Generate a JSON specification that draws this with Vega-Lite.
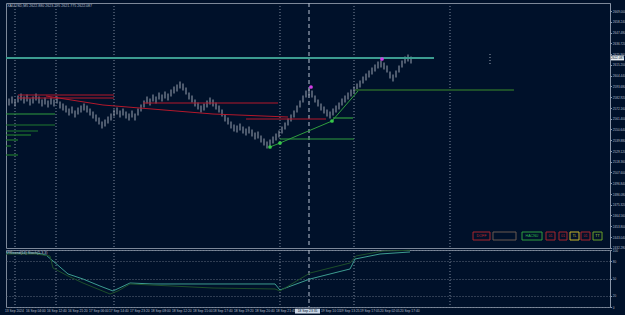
{
"$schema": "https://vega.github.io/schema/vega-lite/v6.json",
"background": "#00112a",
"padding": {"left": 3, "top": 2, "right": 0, "bottom": 0},
"spacing": 2,
"bounds": "flush",
"config": {
 "view": {"stroke": "#7d8899", "strokeWidth": 1},
 "axis": {"labelFont": "Liberation Sans", "labelFontSize": 3.1, "labelColor": "#b5bfcc", "domainColor": "#8a96a8", "tickColor": "#8a96a8", "tickSize": 1.5, "labelPadding": 0.8, "labelOverlap": false, "labelBound": false, "labelFlush": false},
 "text": {"font": "Liberation Sans"}
},
"datasets": {
 "bars": [
{"i":1,"h":2581.5,"l":2574.5},{"i":2,"h":2583.5,"l":2576.5},{"i":3,"h":2580.5,"l":2573.5},{"i":4,"h":2584.5,"l":2577.5},{"i":5,"h":2586.5,"l":2579.5},
{"i":6,"h":2583.5,"l":2576.5},{"i":7,"h":2585.5,"l":2578.5},{"i":8,"h":2581.5,"l":2574.5},{"i":9,"h":2583.5,"l":2576.5},{"i":10,"h":2586.5,"l":2579.5},
{"i":11,"h":2583.5,"l":2576.5},{"i":12,"h":2580.5,"l":2573.5},{"i":13,"h":2582.5,"l":2575.5},{"i":14,"h":2579.5,"l":2572.5},{"i":15,"h":2582.5,"l":2575.5},
{"i":16,"h":2580.5,"l":2573.5},{"i":17,"h":2583.5,"l":2576.5},{"i":18,"h":2578.5,"l":2571.5},{"i":19,"h":2576.5,"l":2569.5},{"i":20,"h":2574.5,"l":2567.5},
{"i":21,"h":2571.5,"l":2564.5},{"i":22,"h":2573.5,"l":2566.5},{"i":23,"h":2569.5,"l":2562.5},{"i":24,"h":2572.5,"l":2565.5},{"i":25,"h":2574.5,"l":2567.5},
{"i":26,"h":2576.5,"l":2569.5},{"i":27,"h":2574.5,"l":2567.5},{"i":28,"h":2571.5,"l":2564.5},{"i":29,"h":2568.5,"l":2561.5},{"i":30,"h":2565.5,"l":2558.5},
{"i":31,"h":2562.5,"l":2555.5},{"i":32,"h":2558.5,"l":2551.5},{"i":33,"h":2560.5,"l":2553.5},{"i":34,"h":2563.5,"l":2556.5},{"i":35,"h":2566.5,"l":2559.5},
{"i":36,"h":2570.5,"l":2563.5},{"i":37,"h":2572.5,"l":2565.5},{"i":38,"h":2569.5,"l":2562.5},{"i":39,"h":2571.5,"l":2564.5},{"i":40,"h":2568.5,"l":2561.5},
{"i":41,"h":2566.5,"l":2559.5},{"i":42,"h":2569.5,"l":2562.5},{"i":43,"h":2566.5,"l":2559.5},{"i":44,"h":2571.5,"l":2564.5},{"i":45,"h":2575.5,"l":2568.5},
{"i":46,"h":2579.5,"l":2572.5},{"i":47,"h":2583.5,"l":2576.5},{"i":48,"h":2581.5,"l":2574.5},{"i":49,"h":2585.5,"l":2578.5},{"i":50,"h":2583.5,"l":2576.5},
{"i":51,"h":2587.5,"l":2580.5},{"i":52,"h":2585.5,"l":2578.5},{"i":53,"h":2588.5,"l":2581.5},{"i":54,"h":2586.5,"l":2579.5},{"i":55,"h":2590.5,"l":2583.5},
{"i":56,"h":2593.5,"l":2586.5},{"i":57,"h":2595.5,"l":2588.5},{"i":58,"h":2598.5,"l":2591.5},{"i":59,"h":2596.5,"l":2589.5},{"i":60,"h":2592.5,"l":2585.5},
{"i":61,"h":2587.5,"l":2580.5},{"i":62,"h":2584.5,"l":2577.5},{"i":63,"h":2580.5,"l":2573.5},{"i":64,"h":2577.5,"l":2570.5},{"i":65,"h":2574.5,"l":2567.5},
{"i":66,"h":2576.5,"l":2569.5},{"i":67,"h":2579.5,"l":2572.5},{"i":68,"h":2582.5,"l":2575.5},{"i":69,"h":2580.5,"l":2573.5},{"i":70,"h":2577.5,"l":2570.5},
{"i":71,"h":2574.5,"l":2567.5},{"i":72,"h":2570.5,"l":2563.5},{"i":73,"h":2565.5,"l":2558.5},{"i":74,"h":2562.5,"l":2555.5},{"i":75,"h":2558.5,"l":2551.5},
{"i":76,"h":2555.5,"l":2548.5},{"i":77,"h":2554.5,"l":2547.5},{"i":78,"h":2556.5,"l":2549.5},{"i":79,"h":2553.5,"l":2546.5},{"i":80,"h":2551.5,"l":2544.5},
{"i":81,"h":2553.5,"l":2546.5},{"i":82,"h":2550.5,"l":2543.5},{"i":83,"h":2547.5,"l":2540.5},{"i":84,"h":2548.5,"l":2541.5},{"i":85,"h":2544.5,"l":2537.5},
{"i":86,"h":2541.5,"l":2534.5},{"i":87,"h":2538.5,"l":2531.5},{"i":88,"h":2540.5,"l":2533.5},{"i":89,"h":2543.5,"l":2536.5},{"i":90,"h":2546.5,"l":2539.5},
{"i":91,"h":2549.5,"l":2542.5},{"i":92,"h":2553.5,"l":2546.5},{"i":93,"h":2557.5,"l":2550.5},{"i":94,"h":2561.5,"l":2554.5},{"i":95,"h":2565.5,"l":2558.5},
{"i":96,"h":2569.5,"l":2562.5},{"i":97,"h":2574.5,"l":2567.5},{"i":98,"h":2579.5,"l":2572.5},{"i":99,"h":2584.5,"l":2577.5},{"i":100,"h":2589.5,"l":2582.5},
{"i":101,"h":2591.5,"l":2584.5},{"i":102,"h":2589.5,"l":2582.5},{"i":103,"h":2584.5,"l":2577.5},{"i":104,"h":2580.5,"l":2573.5},{"i":105,"h":2576.5,"l":2569.5},
{"i":106,"h":2573.5,"l":2566.5},{"i":107,"h":2570.5,"l":2563.5},{"i":108,"h":2568.5,"l":2561.5},{"i":109,"h":2571.5,"l":2564.5},{"i":110,"h":2574.5,"l":2567.5},
{"i":111,"h":2577.5,"l":2570.5},{"i":112,"h":2581.5,"l":2574.5},{"i":113,"h":2584.5,"l":2577.5},{"i":114,"h":2587.5,"l":2580.5},{"i":115,"h":2590.5,"l":2583.5},
{"i":116,"h":2593.5,"l":2586.5},{"i":117,"h":2596.5,"l":2589.5},{"i":118,"h":2599.5,"l":2592.5},{"i":119,"h":2603.5,"l":2596.5},{"i":120,"h":2606.5,"l":2599.5},
{"i":121,"h":2609.5,"l":2602.5},{"i":122,"h":2612.5,"l":2605.5},{"i":123,"h":2615.5,"l":2608.5},{"i":124,"h":2618.5,"l":2611.5},{"i":125,"h":2619.5,"l":2612.5},
{"i":126,"h":2617.5,"l":2610.5},{"i":127,"h":2614.5,"l":2607.5},{"i":128,"h":2608.5,"l":2601.5},{"i":129,"h":2605.5,"l":2598.5},{"i":130,"h":2609.5,"l":2602.5},
{"i":131,"h":2614.5,"l":2607.5},{"i":132,"h":2619.5,"l":2612.5},{"i":133,"h":2623.5,"l":2616.5},{"i":134,"h":2625.5,"l":2618.5},{"i":135,"h":2623.5,"l":2616.5}
 ],
 "vsep": [{"i":3},{"i":16.67},{"i":36},{"i":91.33},{"i":116},{"i":148}],
 "cross": [{"i":101}],
 "hthick": [{"a":0,"b":142.67,"p":2622,"k":"teal"},{"a":116.33,"b":169.33,"p":2590,"k":"dgreen"}],
 "hthin": [
  {"a":4,"b":36,"p":2585,"k":"red"},{"a":4,"b":36,"p":2582,"k":"red"},
  {"a":45.67,"b":90.67,"p":2577,"k":"red"},{"a":80,"b":106.67,"p":2561,"k":"red"},
  {"a":0,"b":16.33,"p":2566,"k":"lgreen"},{"a":0,"b":16.33,"p":2555,"k":"mgreen"},
  {"a":0,"b":10.67,"p":2549,"k":"mgreen"},{"a":0,"b":8.33,"p":2545,"k":"mgreen"},
  {"a":0,"b":4,"p":2540,"k":"mgreen"},{"a":0,"b":1.67,"p":2534,"k":"mgreen"},
  {"a":0,"b":4,"p":2525,"k":"mgreen"},
  {"a":91.33,"b":116,"p":2541,"k":"lgreen"},{"a":109,"b":115.67,"p":2562,"k":"lgreen"}
 ],
 "poly": [
  {"i":13.33,"p":2584,"k":"rdiag"},{"i":32.33,"p":2575,"k":"rdiag"},{"i":69,"p":2566,"k":"rdiag"},{"i":94,"p":2563,"k":"rdiag"},
  {"i":88,"p":2533,"k":"gtrend"},{"i":91.33,"p":2537,"k":"gtrend"},{"i":108.67,"p":2559,"k":"gtrend"},{"i":117.33,"p":2589,"k":"gtrend"}
 ],
 "pts": [
  {"i":88,"p":2533,"k":"gpt"},{"i":91.33,"p":2537,"k":"gpt"},{"i":108.67,"p":2559,"k":"gpt"},
  {"i":101.67,"p":2593,"k":"mpt"},{"i":125.33,"p":2621,"k":"mpt"}
 ],
 "buttons": [
  {"a":155.67,"b":161.33,"m":158.5,"t":"DOFF","k":"bred"},
  {"a":162.33,"b":170,"m":166.17,"t":"","k":"bgray"},
  {"a":172,"b":178.67,"m":175.33,"t":"HACNU","k":"bgreen"},
  {"a":180,"b":183,"m":181.5,"t":"01","k":"bred"},
  {"a":184.33,"b":187,"m":185.67,"t":"01","k":"bred"},
  {"a":188,"b":191,"m":189.5,"t":"TL","k":"byellow"},
  {"a":191.67,"b":194.67,"m":193.17,"t":"01","k":"bred"},
  {"a":195.67,"b":198.67,"m":197.17,"t":"TT","k":"blime"}
 ],
 "osc": [
  {"i":0,"v":94.7,"s":"main"},{"i":10,"v":94.7,"s":"main"},{"i":13.33,"v":91.2,"s":"main"},{"i":15.67,"v":80.7,"s":"main"},
  {"i":20.67,"v":57.9,"s":"main"},{"i":25.67,"v":49.1,"s":"main"},{"i":31.33,"v":36.8,"s":"main"},{"i":35.67,"v":28.1,"s":"main"},
  {"i":41.33,"v":42.1,"s":"main"},{"i":49,"v":40.4,"s":"main"},{"i":69,"v":40.4,"s":"main"},{"i":89.67,"v":40.4,"s":"main"},
  {"i":91.33,"v":29.8,"s":"main"},{"i":101.33,"v":49.1,"s":"main"},{"i":114.67,"v":66.7,"s":"main"},{"i":116.33,"v":84.2,"s":"main"},
  {"i":124.67,"v":93.0,"s":"main"},{"i":134.67,"v":96.5,"s":"main"},
  {"i":0,"v":93.0,"s":"signal"},{"i":10,"v":93.0,"s":"signal"},{"i":14.67,"v":89.5,"s":"signal"},{"i":15.67,"v":68.4,"s":"signal"},
  {"i":20.67,"v":54.4,"s":"signal"},{"i":25.67,"v":42.1,"s":"signal"},{"i":34.67,"v":22.8,"s":"signal"},{"i":37.33,"v":28.1,"s":"signal"},
  {"i":41.33,"v":40.4,"s":"signal"},{"i":69,"v":33.3,"s":"signal"},{"i":89.67,"v":31.6,"s":"signal"},{"i":91.33,"v":28.1,"s":"signal"},
  {"i":101.33,"v":59.6,"s":"signal"},{"i":114.67,"v":77.2,"s":"signal"},{"i":116.67,"v":89.5,"s":"signal"},{"i":125.67,"v":98.2,"s":"signal"},
  {"i":134.67,"v":99.5,"s":"signal"}
 ],
 "xlabels": [
  {"i":-0.33,"t":"13 Sep 2024"},{"i":6.67,"t":"16 Sep 04:00"},{"i":13.67,"t":"16 Sep 12:40"},{"i":20.67,"t":"16 Sep 21:20"},
  {"i":27.67,"t":"17 Sep 06:00"},{"i":34.33,"t":"17 Sep 14:40"},{"i":41.33,"t":"17 Sep 23:20"},{"i":48.33,"t":"18 Sep 08:00"},
  {"i":55.33,"t":"18 Sep 12:20"},{"i":62.33,"t":"18 Sep 15:00"},{"i":69,"t":"18 Sep 17:40"},{"i":76,"t":"18 Sep 19:20"},
  {"i":83,"t":"18 Sep 20:40"},{"i":90,"t":"18 Sep 21:45"},{"i":105,"t":"19 Sep 10:15"},{"i":111.33,"t":"19 Sep 13:25"},
  {"i":118,"t":"19 Sep 17:05"},{"i":124.67,"t":"20 Sep 02:05"},{"i":131.33,"t":"20 Sep 17:40"}
 ]
},
"vconcat": [
 {
  "width": 604, "height": 245,
  "layer": [
   {"data": {"name": "vsep"}, "mark": {"type": "rule", "color": "#7f8a9c", "strokeDash": [1, 2], "strokeWidth": 1},
    "encoding": {"x": {"field": "i", "type": "quantitative", "scale": {"domain": [0, 201.33], "nice": false, "zero": false}, "axis": null}}},
   {"data": {"name": "cross"}, "mark": {"type": "rule", "color": "#b8c2d0", "strokeDash": [4, 3], "strokeWidth": 1},
    "encoding": {"x": {"field": "i", "type": "quantitative", "axis": null}}},
   {"data": {"name": "bars"}, "mark": {"type": "rule", "color": "#9aa3b0", "strokeWidth": 1},
    "encoding": {
     "x": {"field": "i", "type": "quantitative", "axis": null},
     "y": {"field": "l", "type": "quantitative", "title": null, "scale": {"domain": [2432, 2677], "nice": false, "zero": false},
      "axis": {"orient": "right", "grid": false, "labelOverlap": false, "format": ".3f", "tickCount": 23,
       "values": [2669.0, 2658.24, 2647.48, 2636.72, 2625.96, 2615.2, 2604.44, 2593.68, 2582.92, 2572.16, 2561.4, 2550.64, 2539.88, 2529.12, 2518.36, 2507.6, 2496.84, 2486.08, 2475.32, 2464.56, 2453.8, 2443.04, 2432.28]}},
     "y2": {"field": "h"}}},
   {"data": {"name": "hthick"}, "mark": {"type": "rule", "strokeWidth": 2},
    "encoding": {"x": {"field": "a", "type": "quantitative", "axis": null}, "x2": {"field": "b"},
     "y": {"field": "p", "type": "quantitative", "title": null, "axis": {"orient": "right", "grid": false, "labelOverlap": false, "format": ".3f", "tickCount": 23,
       "values": [2669.0, 2658.24, 2647.48, 2636.72, 2625.96, 2615.2, 2604.44, 2593.68, 2582.92, 2572.16, 2561.4, 2550.64, 2539.88, 2529.12, 2518.36, 2507.6, 2496.84, 2486.08, 2475.32, 2464.56, 2453.8, 2443.04, 2432.28]}},
     "color": {"field": "k", "type": "nominal", "legend": null,
      "scale": {"domain": ["teal","dgreen","red","lgreen","mgreen","rdiag","gtrend","gpt","mpt","bred","bgray","bgreen","byellow","blime"],
       "range": ["#3c9c90","#1d4f2a","#b3182b","#2f9e3e","#1e7a2e","#b3182b","#2f9e3e","#36c74a","#d23ee6","#c0282f","#6a5a50","#2fbf4a","#c8b52a","#b5d83a"]}}}},
   {"data": {"name": "hthin"}, "mark": {"type": "rule", "strokeWidth": 1.2},
    "encoding": {"x": {"field": "a", "type": "quantitative", "axis": null}, "x2": {"field": "b"},
     "y": {"field": "p", "type": "quantitative", "title": null, "axis": {"orient": "right", "grid": false, "labelOverlap": false, "format": ".3f", "tickCount": 23,
       "values": [2669.0, 2658.24, 2647.48, 2636.72, 2625.96, 2615.2, 2604.44, 2593.68, 2582.92, 2572.16, 2561.4, 2550.64, 2539.88, 2529.12, 2518.36, 2507.6, 2496.84, 2486.08, 2475.32, 2464.56, 2453.8, 2443.04, 2432.28]}},
     "color": {"field": "k", "type": "nominal", "legend": null}}},
   {"data": {"name": "poly"}, "mark": {"type": "line", "strokeWidth": 1},
    "encoding": {"x": {"field": "i", "type": "quantitative", "axis": null},
     "y": {"field": "p", "type": "quantitative", "title": null, "axis": {"orient": "right", "grid": false, "labelOverlap": false, "format": ".3f", "tickCount": 23,
       "values": [2669.0, 2658.24, 2647.48, 2636.72, 2625.96, 2615.2, 2604.44, 2593.68, 2582.92, 2572.16, 2561.4, 2550.64, 2539.88, 2529.12, 2518.36, 2507.6, 2496.84, 2486.08, 2475.32, 2464.56, 2453.8, 2443.04, 2432.28]}},
     "color": {"field": "k", "type": "nominal", "legend": null}}},
   {"data": {"name": "pts"}, "mark": {"type": "point", "filled": true, "size": 14, "opacity": 1},
    "encoding": {"x": {"field": "i", "type": "quantitative", "axis": null},
     "y": {"field": "p", "type": "quantitative", "title": null, "axis": {"orient": "right", "grid": false, "labelOverlap": false, "format": ".3f", "tickCount": 23,
       "values": [2669.0, 2658.24, 2647.48, 2636.72, 2625.96, 2615.2, 2604.44, 2593.68, 2582.92, 2572.16, 2561.4, 2550.64, 2539.88, 2529.12, 2518.36, 2507.6, 2496.84, 2486.08, 2475.32, 2464.56, 2453.8, 2443.04, 2432.28]}},
     "color": {"field": "k", "type": "nominal", "legend": null}}},
   {"data": {"values": [{"i": 161.33, "p1": 2626, "p2": 2614}]}, "mark": {"type": "rule", "color": "#9aa4b4", "strokeDash": [1, 2]},
    "encoding": {"x": {"field": "i", "type": "quantitative", "axis": null},
     "y": {"field": "p1", "type": "quantitative", "title": null, "axis": {"orient": "right", "grid": false, "labelOverlap": false, "format": ".3f", "tickCount": 23,
       "values": [2669.0, 2658.24, 2647.48, 2636.72, 2625.96, 2615.2, 2604.44, 2593.68, 2582.92, 2572.16, 2561.4, 2550.64, 2539.88, 2529.12, 2518.36, 2507.6, 2496.84, 2486.08, 2475.32, 2464.56, 2453.8, 2443.04, 2432.28]}}, "y2": {"field": "p2"}}},
   {"data": {"name": "buttons"}, "mark": {"type": "rect", "fill": "#00112a", "strokeWidth": 1},
    "encoding": {"x": {"field": "a", "type": "quantitative", "axis": null}, "x2": {"field": "b"},
     "y": {"datum": 2448, "type": "quantitative", "title": null, "axis": {"orient": "right", "grid": false, "labelOverlap": false, "format": ".3f", "tickCount": 23,
       "values": [2669.0, 2658.24, 2647.48, 2636.72, 2625.96, 2615.2, 2604.44, 2593.68, 2582.92, 2572.16, 2561.4, 2550.64, 2539.88, 2529.12, 2518.36, 2507.6, 2496.84, 2486.08, 2475.32, 2464.56, 2453.8, 2443.04, 2432.28]}}, "y2": {"datum": 2440},
     "stroke": {"field": "k", "type": "nominal", "legend": null,
      "scale": {"domain": ["bred","bgray","bgreen","byellow","blime"], "range": ["#a8262d","#6a5a50","#2f9e3e","#c8b52a","#6aa12a"]}}}},
   {"data": {"name": "buttons"}, "mark": {"type": "text", "fontSize": 3.6, "align": "center", "baseline": "middle"},
    "encoding": {"x": {"field": "m", "type": "quantitative", "axis": null},
     "y": {"datum": 2444, "type": "quantitative", "title": null, "axis": {"orient": "right", "grid": false, "labelOverlap": false, "format": ".3f", "tickCount": 23,
       "values": [2669.0, 2658.24, 2647.48, 2636.72, 2625.96, 2615.2, 2604.44, 2593.68, 2582.92, 2572.16, 2561.4, 2550.64, 2539.88, 2529.12, 2518.36, 2507.6, 2496.84, 2486.08, 2475.32, 2464.56, 2453.8, 2443.04, 2432.28]}},
     "text": {"field": "t"},
     "color": {"field": "k", "type": "nominal", "legend": null}}},
   {"data": {"values": [{"t": "XAUUSD,M5  2622.880 2623.295 2621.775 2622.087", "i": 0.4, "p": 2674}]},
    "mark": {"type": "text", "fontSize": 3.6, "align": "left", "baseline": "middle", "color": "#b5bfcc"},
    "encoding": {"x": {"field": "i", "type": "quantitative", "axis": null},
     "y": {"field": "p", "type": "quantitative", "title": null, "axis": {"orient": "right", "grid": false, "labelOverlap": false, "format": ".3f", "tickCount": 23,
       "values": [2669.0, 2658.24, 2647.48, 2636.72, 2625.96, 2615.2, 2604.44, 2593.68, 2582.92, 2572.16, 2561.4, 2550.64, 2539.88, 2529.12, 2518.36, 2507.6, 2496.84, 2486.08, 2475.32, 2464.56, 2453.8, 2443.04, 2432.28]}}, "text": {"field": "t"}}},
   {"data": {"values": [{"a": 201.67, "b": 206.0, "p1": 2619.6, "p2": 2624.4}]},
    "mark": {"type": "rect", "fill": "#e8edf2", "clip": false},
    "encoding": {"x": {"field": "a", "type": "quantitative", "axis": null}, "x2": {"field": "b"},
     "y": {"field": "p1", "type": "quantitative", "title": null, "axis": {"orient": "right", "grid": false, "labelOverlap": false, "format": ".3f", "tickCount": 23,
       "values": [2669.0, 2658.24, 2647.48, 2636.72, 2625.96, 2615.2, 2604.44, 2593.68, 2582.92, 2572.16, 2561.4, 2550.64, 2539.88, 2529.12, 2518.36, 2507.6, 2496.84, 2486.08, 2475.32, 2464.56, 2453.8, 2443.04, 2432.28]}}, "y2": {"field": "p2"}}},
   {"data": {"values": [{"i": 203.8, "p": 2622, "t": "2622.087"}]},
    "mark": {"type": "text", "fontSize": 3.1, "align": "center", "baseline": "middle", "color": "#00112a"},
    "encoding": {"x": {"field": "i", "type": "quantitative", "axis": null},
     "y": {"field": "p", "type": "quantitative", "title": null, "axis": {"orient": "right", "grid": false, "labelOverlap": false, "format": ".3f", "tickCount": 23,
       "values": [2669.0, 2658.24, 2647.48, 2636.72, 2625.96, 2615.2, 2604.44, 2593.68, 2582.92, 2572.16, 2561.4, 2550.64, 2539.88, 2529.12, 2518.36, 2507.6, 2496.84, 2486.08, 2475.32, 2464.56, 2453.8, 2443.04, 2432.28]}}, "text": {"field": "t"}}}
  ]
 },
 {
  "width": 604, "height": 57,
  "layer": [
   {"data": {"name": "vsep"}, "mark": {"type": "rule", "color": "#7f8a9c", "strokeDash": [1, 2], "strokeWidth": 1},
    "encoding": {"x": {"field": "i", "type": "quantitative", "scale": {"domain": [0, 201.33], "nice": false, "zero": false}, "axis": null}}},
   {"data": {"name": "cross"}, "mark": {"type": "rule", "color": "#b8c2d0", "strokeDash": [4, 3], "strokeWidth": 1},
    "encoding": {"x": {"field": "i", "type": "quantitative", "axis": null}}},
   {"data": {"name": "osc"}, "mark": {"type": "line", "strokeWidth": 1},
    "encoding": {"x": {"field": "i", "type": "quantitative", "axis": null},
     "y": {"field": "v", "type": "quantitative", "title": null, "scale": {"domain": [0, 100], "nice": false, "zero": false},
      "axis": {"orient": "right", "values": [0, 20, 50, 80, 100], "tickCount": 5, "format": "d", "grid": true, "gridDash": [1, 2], "gridColor": "#5f6b7d", "labelOverlap": false}},
     "color": {"field": "s", "type": "nominal", "legend": null, "scale": {"domain": ["main", "signal"], "range": ["#8a2035", "#1a4f3a"]}}}},
   {"data": {"values": [{"i": 0.4, "v": 94, "t": "PRtrend(14) Stoch(5,3,3)"}]},
    "mark": {"type": "text", "fontSize": 3.6, "align": "left", "baseline": "middle", "color": "#c0c8d4"},
    "encoding": {"x": {"field": "i", "type": "quantitative", "axis": null},
     "y": {"field": "v", "type": "quantitative", "title": null, "axis": {"orient": "right", "values": [0, 20, 50, 80, 100], "tickCount": 5, "format": "d", "grid": true, "gridDash": [1, 2], "gridColor": "#5f6b7d", "labelOverlap": false}}, "text": {"field": "t"}}},
   {"data": {"name": "xlabels"},
    "mark": {"type": "text", "fontSize": 3.3, "align": "left", "baseline": "middle", "color": "#b5bfcc"},
    "encoding": {"x": {"field": "i", "type": "quantitative", "axis": null},
     "y": {"datum": -7, "type": "quantitative", "title": null, "axis": {"orient": "right", "values": [0, 20, 50, 80, 100], "tickCount": 5, "format": "d", "grid": true, "gridDash": [1, 2], "gridColor": "#5f6b7d", "labelOverlap": false}}, "text": {"field": "t"}}},
   {"data": {"values": [{"a": 96.33, "b": 104.67, "v1": -3, "v2": -11.5}]},
    "mark": {"type": "rect", "fill": "#c9d6e6", "clip": false},
    "encoding": {"x": {"field": "a", "type": "quantitative", "axis": null}, "x2": {"field": "b"},
     "y": {"field": "v1", "type": "quantitative", "title": null, "axis": {"orient": "right", "values": [0, 20, 50, 80, 100], "tickCount": 5, "format": "d", "grid": true, "gridDash": [1, 2], "gridColor": "#5f6b7d", "labelOverlap": false}}, "y2": {"field": "v2"}}},
   {"data": {"values": [{"i": 100.5, "v": -7, "t": "18 Sep 23:35"}]},
    "mark": {"type": "text", "fontSize": 3.3, "align": "center", "baseline": "middle", "color": "#00112a"},
    "encoding": {"x": {"field": "i", "type": "quantitative", "axis": null},
     "y": {"field": "v", "type": "quantitative", "title": null, "axis": {"orient": "right", "values": [0, 20, 50, 80, 100], "tickCount": 5, "format": "d", "grid": true, "gridDash": [1, 2], "gridColor": "#5f6b7d", "labelOverlap": false}}, "text": {"field": "t"}}}
  ]
 }
]
}
